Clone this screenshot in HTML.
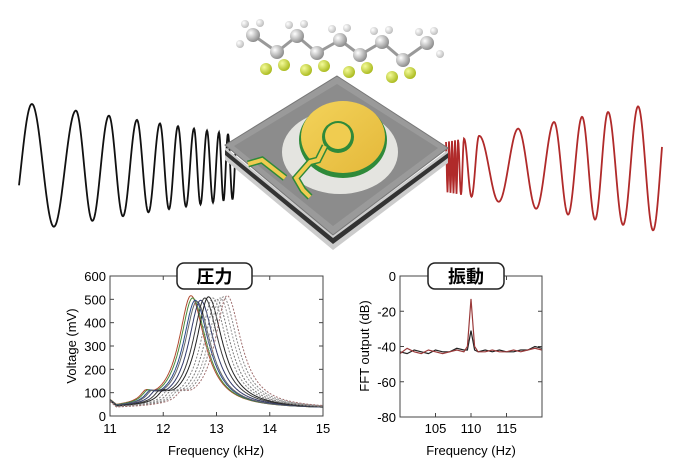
<!DOCTYPE html>
<html><head><meta charset="utf-8">
<style>
body{margin:0;background:#fff;width:682px;height:476px;overflow:hidden;font-family:"Liberation Sans","Noto Sans CJK JP",sans-serif}
svg{display:block}
text{font-family:"Liberation Sans","Noto Sans CJK JP",sans-serif}
</style></head><body>
<svg id="s" width="682" height="476" viewBox="0 0 682 476">
<defs>
<linearGradient id="gold" x1="0" y1="0" x2="1" y2="1"><stop offset="0" stop-color="#f3d35a"/><stop offset="1" stop-color="#e4b83a"/></linearGradient>
<radialGradient id="ball" cx="0.35" cy="0.35" r="0.7"><stop offset="0" stop-color="#fff"/><stop offset="1" stop-color="#888"/></radialGradient>
<radialGradient id="fball" cx="0.35" cy="0.35" r="0.7"><stop offset="0" stop-color="#f4fb9a"/><stop offset="1" stop-color="#a8b81a"/></radialGradient>
<radialGradient id="hball" cx="0.35" cy="0.35" r="0.7"><stop offset="0" stop-color="#fff"/><stop offset="1" stop-color="#bbb"/></radialGradient>
</defs>
<g id="waves"></g>
<g id="chip">
<polygon points="225,147 333,235 333,250 225,160" fill="#ccc"/>
<polygon points="333,235 448,150 448,163 333,250" fill="#ccc"/>
<polygon points="225,150 333,238 333,244 225,155" fill="#333"/>
<polygon points="333,238 448,153 448,158 333,244" fill="#333"/>
<polygon points="337,76 448,148 333,235 225,145" fill="#9a9a9a" stroke="#777"/>
<polygon points="337,84 438,148 333,226 234,146" fill="#8c8c8c"/>
<ellipse cx="340" cy="152" rx="58" ry="42" fill="#e4e4e0"/>
<ellipse cx="343" cy="140" rx="44" ry="38" fill="#2f8a3a"/>
<ellipse cx="343" cy="137" rx="42" ry="36" fill="url(#gold)"/>
<circle cx="338" cy="137" r="16" fill="#2f8a3a"/>
<circle cx="338" cy="136" r="13" fill="#f0cc50"/>
<polyline points="325,146 318,160 310,162 296,178 303,190 310,197" fill="none" stroke="#2f8a3a" stroke-width="7"/>
<polyline points="325,146 318,160 310,162 296,178 303,190 310,197" fill="none" stroke="#f0cc50" stroke-width="4"/>
<polyline points="248,164 262,160 285,178" fill="none" stroke="#2f8a3a" stroke-width="7"/>
<polyline points="248,164 262,160 285,178" fill="none" stroke="#f0cc50" stroke-width="4"/>
</g>
<g id="mol"></g>
<g id="c1"></g>
<g id="c2"></g>
</svg>
<script>
// ---- left chart data ----
const peakFreqs=[12.52,12.55,12.60,12.63,12.70,12.78,12.85,12.93,13.00,13.07,13.13,13.20];
const peakVolts=[515,505,495,490,495,505,510,505,500,505,510,515];
const lineColors=["#b04a30","#4a8a3a","#2c4a8a","#666","#333a6a","#3a3a3a","#222","#888","#777","#999","#888","#a07070"];
const dashed=[0,0,0,0,0,0,0,1,1,1,1,1];
const xTicks1=[11,12,13,14,15];
const yTicks1=[0,100,200,300,400,500,600];
// ---- right chart data ----
const fftHz=[100,101,102,103,104,105,106,107,108,109,109.5,110,110.5,111,112,113,114,115,116,117,118,119,120];
const fftRed=[-44,-41,-43,-44,-42,-43,-44,-43,-42,-43,-40,-13,-40,-43,-43,-42,-43,-43,-42,-43,-42,-41,-42];
const fftBlack=[-43,-44,-42,-43,-44,-42,-43,-43,-41,-42,-42,-31,-42,-43,-42,-43,-42,-43,-43,-42,-42,-40,-41];
const xTicks2=[105,110,115];
const yTicks2=[0,-20,-40,-60,-80];

const NS="http://www.w3.org/2000/svg";
function mk(p,t,a){const e=document.createElementNS(NS,t);for(const k in a)e.setAttribute(k,a[k]);p.appendChild(e);return e;}

// waves
const W=document.getElementById('waves');
function chirp(peaks,x0,x1,a0,a1,cy,col,name){
  let d="";
  for(let x=x0;x<=x1;x+=0.5){
    let k=0;while(k<peaks.length&&peaks[k]<x)k++;
    let ph;
    if(k===0){const p=peaks[1]-peaks[0];ph=Math.PI/2-(peaks[0]-x)/p*2*Math.PI;}
    else if(k===peaks.length){const p=peaks[k-1]-peaks[k-2];ph=Math.PI/2+2*Math.PI*(k-1)+(x-peaks[k-1])/p*2*Math.PI;}
    else ph=Math.PI/2+2*Math.PI*(k-1)+(x-peaks[k-1])/(peaks[k]-peaks[k-1])*2*Math.PI;
    const a=a0+(a1-a0)*(x-x0)/(x1-x0);
    d+=(d?"L":"M")+x.toFixed(1)+","+(cy-a*Math.sin(ph)).toFixed(1);
  }
  const e=mk(W,'path',{d:d,fill:'none',stroke:col,'stroke-width':1.8});
  
  
}
chirp([32,76,109,137,160,178,194,207,219,228],19,236,65,32,167,'#111','input-wave');
chirp([455,458,464,479,518,554,582,608,638],446,662,25,65,167,'#b02a2a','output-wave');

// molecule
const M=document.getElementById('mol');
const C=[[253,35],[277,52],[297,36],[317,53],[340,40],[360,55],[382,42],[403,60],[427,43]];
for(let i=0;i<C.length-1;i++)mk(M,'line',{x1:C[i][0],y1:C[i][1],x2:C[i+1][0],y2:C[i+1][1],stroke:'#999','stroke-width':3});
C.forEach((c,i)=>{
  if(i%2===1){mk(M,'circle',{cx:c[0]-11,cy:c[1]+17,r:6,fill:'url(#fball)'});mk(M,'circle',{cx:c[0]+7,cy:c[1]+13,r:6,fill:'url(#fball)'});}
  else{mk(M,'circle',{cx:c[0]-8,cy:c[1]-11,r:4,fill:'url(#hball)'});mk(M,'circle',{cx:c[0]+7,cy:c[1]-12,r:4,fill:'url(#hball)'});}
  mk(M,'circle',{cx:c[0],cy:c[1],r:7,fill:'url(#ball)'});
});
mk(M,'circle',{cx:240,cy:44,r:4,fill:'url(#hball)'});
mk(M,'circle',{cx:440,cy:54,r:4,fill:'url(#hball)'});

function frame(g,x0,y0,x1,y1){
  mk(g,'rect',{x:x0,y:y0,width:x1-x0,height:y1-y0,fill:'none',stroke:'#444','stroke-width':1});
}
function titleBox(g,x,y,w,txt,name){
  mk(g,'rect',{x:x,y:y,width:w,height:26,rx:7,fill:'#fff',stroke:'#222','stroke-width':1.5});
  const t=mk(g,'text',{x:x+w/2,y:y+20,'text-anchor':'middle','font-size':18,'font-weight':'bold'});t.textContent=txt;
  
}

// chart 1
const g1=document.getElementById('c1');
const X1=v=>110+(v-11)/4*213, Y1=v=>416-v/600*140;
xTicks1.forEach(v=>{
  mk(g1,'line',{x1:X1(v),y1:416,x2:X1(v),y2:412,stroke:'#444'});mk(g1,'line',{x1:X1(v),y1:276,x2:X1(v),y2:280,stroke:'#444'});
  const t=mk(g1,'text',{x:X1(v),y:433,'text-anchor':'middle','font-size':13});t.textContent=v;
  
});
yTicks1.forEach(v=>{
  mk(g1,'line',{x1:110,y1:Y1(v),x2:114,y2:Y1(v),stroke:'#444'});mk(g1,'line',{x1:323,y1:Y1(v),x2:319,y2:Y1(v),stroke:'#444'});
  const t=mk(g1,'text',{x:106,y:Y1(v)+5,'text-anchor':'end','font-size':13});t.textContent=v;
  
});
peakFreqs.forEach((f0,i)=>{
  let d="";
  for(let f=11;f<=15.001;f+=0.01){
    const w=(f<f0)?0.28:0.32;
    let v=30+(peakVolts[i]-30)/(1+Math.pow((f-f0)/w,2));
    v+=35/(1+Math.pow((f-(f0-0.85))/0.12,2));
    if(f<11.12)v+=25*(1-(f-11)/0.12);
    d+=(d?"L":"M")+X1(f).toFixed(1)+","+Y1(v).toFixed(1);
  }
  const p=mk(g1,'path',{d:d,fill:'none',stroke:lineColors[i],'stroke-width':1,'stroke-dasharray':dashed[i]?'2,1.5':'none'});
  
});
frame(g1,110,276,323,416);
titleBox(g1,177,263,75,'圧力','pressure-title');
let t=mk(g1,'text',{x:216,y:455,'text-anchor':'middle','font-size':13});t.textContent='Frequency (kHz)';

t=mk(g1,'text',{x:0,y:0,'text-anchor':'middle','font-size':13,transform:'translate(76,346) rotate(-90)'});t.textContent='Voltage (mV)';


// chart 2
const g2=document.getElementById('c2');
const X2=v=>400+(v-100)*7.1, Y2=v=>276+(v/-80)*141;
xTicks2.forEach(v=>{
  mk(g2,'line',{x1:X2(v),y1:417,x2:X2(v),y2:413,stroke:'#444'});mk(g2,'line',{x1:X2(v),y1:276,x2:X2(v),y2:280,stroke:'#444'});
  const t=mk(g2,'text',{x:X2(v),y:433,'text-anchor':'middle','font-size':13});t.textContent=v;
  
});
yTicks2.forEach(v=>{
  mk(g2,'line',{x1:400,y1:Y2(v),x2:404,y2:Y2(v),stroke:'#444'});mk(g2,'line',{x1:542,y1:Y2(v),x2:538,y2:Y2(v),stroke:'#444'});
  const t=mk(g2,'text',{x:396,y:Y2(v)+5,'text-anchor':'end','font-size':13});t.textContent=v;
  
});
[[fftBlack,'#222','fft-black-line'],[fftRed,'#9a3a3a','fft-red-line']].forEach(([arr,col,nm])=>{
  const d=arr.map((v,i)=>(i?"L":"M")+X2(fftHz[i]).toFixed(1)+","+Y2(v).toFixed(1)).join("");
  const p=mk(g2,'path',{d:d,fill:'none',stroke:col,'stroke-width':1.2});
  
});
frame(g2,400,276,542,417);
titleBox(g2,428,263,76,'振動','vibration-title');
t=mk(g2,'text',{x:471,y:455,'text-anchor':'middle','font-size':13});t.textContent='Frequency (Hz)';

t=mk(g2,'text',{x:0,y:0,'text-anchor':'middle','font-size':13,transform:'translate(369,346) rotate(-90)'});t.textContent='FFT output (dB)';

</script>
</body></html>
